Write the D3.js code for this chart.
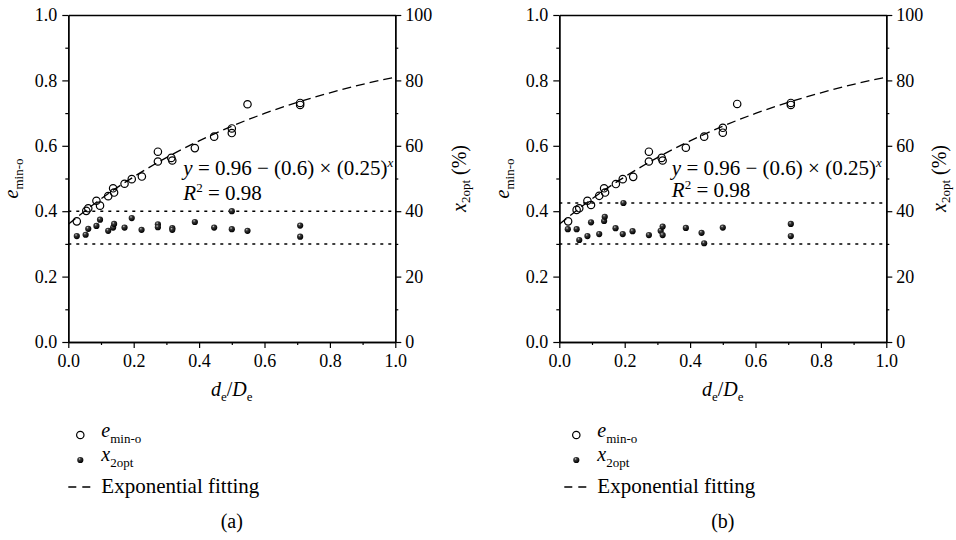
<!DOCTYPE html>
<html><head><meta charset="utf-8">
<script src="https://cdn.jsdelivr.net/npm/d3@7"></script>
<style>
body{margin:0;background:#fff;}
svg text{font-family:"Liberation Serif","Tinos","Times New Roman","DejaVu Serif","Noto Serif",serif !important;fill:#000;}
</style></head><body>
<svg id="c" width="956" height="540"></svg>
<script>
// ---------- data ----------
const xTicks = [0, 0.2, 0.4, 0.6, 0.8, 1.0];
const xMinor = [0.1, 0.3, 0.5, 0.7, 0.9];
const yTicks = [0, 0.2, 0.4, 0.6, 0.8, 1.0];
const yMinor = [0.1, 0.3, 0.5, 0.7, 0.9];
const y2Ticks = [0, 20, 40, 60, 80, 100];
const y2Minor = [10, 30, 50, 70, 90];

// panel (a) e_min-o (open circles)
const eA_x = [0.026,0.055,0.061,0.086,0.097,0.122,0.137,0.140,0.172,0.194,0.225,0.274,0.274,0.315,0.318,0.387,0.446,0.500,0.500,0.548,0.709,0.709];
const eA_y = [0.369,0.401,0.409,0.432,0.417,0.446,0.470,0.457,0.484,0.498,0.506,0.582,0.552,0.563,0.555,0.593,0.628,0.653,0.639,0.727,0.731,0.725];
// panel (a) x_2opt (%) (filled dots)
const xA_x = [0.026,0.053,0.061,0.086,0.097,0.122,0.137,0.140,0.172,0.194,0.224,0.274,0.274,0.318,0.318,0.387,0.446,0.500,0.500,0.548,0.709,0.709];
const xA_p = [32.4,32.8,34.6,35.5,37.4,34.0,35.0,36.1,35.0,37.9,34.3,36.0,35.1,34.8,34.3,36.7,35.0,40.0,34.5,34.0,35.6,32.2];

// panel (b) e_min-o
const eB_x = [0.027,0.053,0.061,0.086,0.097,0.122,0.137,0.140,0.173,0.194,0.226,0.274,0.274,0.313,0.316,0.387,0.443,0.500,0.500,0.544,0.708,0.708];
const eB_y = [0.369,0.404,0.409,0.432,0.419,0.447,0.470,0.457,0.483,0.498,0.505,0.582,0.552,0.563,0.555,0.594,0.628,0.655,0.640,0.728,0.731,0.725];
// panel (b) x_2opt (%)
const xB_x = [0.026,0.053,0.061,0.086,0.097,0.122,0.137,0.139,0.172,0.194,0.196,0.224,0.274,0.310,0.316,0.316,0.387,0.435,0.443,0.500,0.708,0.708];
const xB_p = [34.5,34.5,31.2,32.4,36.6,33.0,37.0,38.3,34.8,33.0,42.5,33.9,32.7,34.0,35.3,32.7,34.9,33.4,30.2,35.0,36.1,32.4];

// exponential fitting curve y = 0.96 - (0.6)(0.25)^x
const fit_x = [0, 0.1, 0.2, 0.3, 0.4, 0.5, 0.6, 0.7, 0.8, 0.9, 1.0];
const fit_y = [0.360, 0.438, 0.505, 0.564, 0.615, 0.660, 0.699, 0.733, 0.762, 0.788, 0.810];

// dotted bounds for x_2opt (%)
const boundsA = [40, 30];
const boundsB = [42.5, 30];
const panelNames = ["(a)", "(b)"];

// ---------- drawing ----------
const FONT = "'Liberation Serif','Tinos','Times New Roman','DejaVu Serif','Noto Serif',serif";
const svg = d3.select("#c");
const W = 327, H = 327, TOP = 15;

const defs = svg.append("defs");
const grad = defs.append("radialGradient").attr("id","ball").attr("cx","38%").attr("cy","32%").attr("r","65%");
grad.append("stop").attr("offset","0%").attr("stop-color","#d0d0d0");
grad.append("stop").attr("offset","30%").attr("stop-color","#3a3a3a");
grad.append("stop").attr("offset","100%").attr("stop-color","#000");

function drawPanel(cfg) {
  const g = svg.append("g").attr("transform", `translate(${cfg.ox},${TOP})`);
  const x = d3.scaleLinear().domain([0,1]).range([0,W]);
  const y = d3.scaleLinear().domain([0,1]).range([H,0]);
  const y2 = d3.scaleLinear().domain([0,100]).range([H,0]);

  const fmt = d3.format(".1f");
  function styleAxis(sel) {
    sel.attr("font-family", FONT);
    sel.select(".domain").attr("stroke","#000").attr("stroke-width",1.4);
    sel.selectAll(".tick line").attr("stroke","#000").attr("stroke-width",1.2);
    sel.selectAll("text").style("font-size","18px").attr("fill","#000");
  }
  // minor ticks
  g.append("g").attr("transform",`translate(0,${H})`)
    .call(d3.axisBottom(x).tickValues(xMinor).tickSize(3).tickFormat("").tickSizeOuter(0)).call(styleAxis);
  g.append("g").call(d3.axisLeft(y).tickValues(yMinor).tickSize(3).tickFormat("").tickSizeOuter(0)).call(styleAxis);
  g.append("g").attr("transform",`translate(${W},0)`)
    .call(d3.axisRight(y2).tickValues(y2Minor).tickSize(3).tickFormat("").tickSizeOuter(0)).call(styleAxis);
  // major axes
  g.append("g").attr("transform",`translate(0,${H})`)
    .call(d3.axisBottom(x).tickValues(xTicks).tickFormat(fmt).tickSize(6).tickPadding(6).tickSizeOuter(0)).call(styleAxis);
  g.append("g").call(d3.axisLeft(y).tickValues(yTicks).tickFormat(fmt).tickSize(6).tickPadding(5).tickSizeOuter(0)).call(styleAxis);
  g.append("g").attr("transform",`translate(${W},0)`)
    .call(d3.axisRight(y2).tickValues(y2Ticks).tickFormat(d3.format("d")).tickSize(6).tickPadding(4).tickSizeOuter(0)).call(styleAxis);
  g.append("g").call(d3.axisTop(x).tickValues([]).tickSizeOuter(0)).call(styleAxis);

  // dotted bounds
  g.selectAll("line.bound").data(cfg.bounds).join("line").attr("class","bound")
    .attr("x1", x(0)).attr("x2", x(1)).attr("y1", d => y2(d)).attr("y2", d => y2(d))
    .attr("stroke","#000").attr("stroke-width",1.5).attr("stroke-dasharray","3,5");

  // fit curve
  const line = d3.line().x(d => x(d[0])).y(d => y(d[1])).curve(d3.curveNatural);
  g.append("path").datum(d3.zip(fit_x, fit_y)).attr("d", line)
    .attr("fill","none").attr("stroke","#000").attr("stroke-width",1.3).attr("stroke-dasharray","9,5");

  // open circles
  g.selectAll("circle.e").data(d3.zip(cfg.ex, cfg.ey)).join("circle").attr("class","e")
    .attr("cx", d => x(d[0])).attr("cy", d => y(d[1])).attr("r",3.7)
    .attr("fill","none").attr("stroke","#000").attr("stroke-width",1.2);
  // filled dots
  g.selectAll("circle.p").data(d3.zip(cfg.px, cfg.pp)).join("circle").attr("class","p")
    .attr("cx", d => x(d[0])).attr("cy", d => y2(d[1])).attr("r",3.1)
    .attr("fill","url(#ball)");

  const T = (sel) => sel.attr("font-family", FONT);

  // equation
  const eq = g.append("text").call(T).attr("x", cfg.eqx).attr("y", 160).style("font-size","21px");
  eq.append("tspan").style("font-style","italic").text("y");
  eq.append("tspan").text(" = 0.96 \u2212 (0.6) \u00d7 (0.25)");
  eq.append("tspan").style("font-style","italic").style("font-size","13px").attr("dy",-8).text("x");
  const r2 = g.append("text").call(T).attr("x", cfg.eqx).attr("y", cfg.r2y).style("font-size","21px");
  r2.append("tspan").style("font-style","italic").text("R");
  r2.append("tspan").style("font-size","13px").attr("dy",-8).text("2");
  r2.append("tspan").attr("dy",8).text(" = 0.98");

  // x title
  const xt = g.append("text").call(T).attr("x", W/2).attr("y", 381).attr("text-anchor","middle").style("font-size","20px");
  xt.append("tspan").style("font-style","italic").text("d");
  xt.append("tspan").style("font-size","13px").attr("dy",5).text("e");
  xt.append("tspan").attr("dy",-5).text("/");
  xt.append("tspan").style("font-style","italic").text("D");
  xt.append("tspan").style("font-size","13px").attr("dy",5).text("e");

  // left title
  const lt = g.append("text").call(T).attr("transform",`translate(${-50},${H/2}) rotate(-90)`).attr("text-anchor","middle").style("font-size","20px");
  lt.append("tspan").style("font-style","italic").text("e");
  lt.append("tspan").style("font-size","13px").attr("dy",5).text("min-o");

  // right title
  const rt = g.append("text").call(T).attr("transform",`translate(${W + cfg.rtx},${H/2}) rotate(-90)`).attr("text-anchor","middle").style("font-size","20px");
  rt.append("tspan").style("font-style","italic").text("x");
  rt.append("tspan").style("font-size","13px").attr("dy",4).text("2opt");
  rt.append("tspan").attr("dy",-4).text(" (%)");

  // legend
  const lg = g.append("g").attr("transform",`translate(${cfg.lgx},0)`);
  lg.append("circle").attr("cx",0).attr("cy",420).attr("r",3.7).attr("fill","none").attr("stroke","#000").attr("stroke-width",1.2);
  const l1 = lg.append("text").call(T).attr("x",21).attr("y",422).style("font-size","20px");
  l1.append("tspan").style("font-style","italic").text("e");
  l1.append("tspan").style("font-size","13px").attr("dy",6).text("min-o");
  lg.append("circle").attr("cx",0).attr("cy",445).attr("r",3.1).attr("fill","url(#ball)");
  const l2 = lg.append("text").call(T).attr("x",21).attr("y",446).style("font-size","20px");
  l2.append("tspan").style("font-style","italic").text("x");
  l2.append("tspan").style("font-size","13px").attr("dy",6).text("2opt");
  lg.append("line").attr("x1",-12).attr("x2",13).attr("y1",472).attr("y2",472)
    .attr("stroke","#000").attr("stroke-width",1.3).attr("stroke-dasharray","8,6");
  lg.append("text").call(T).attr("x",21).attr("y",478).style("font-size","21px").text("Exponential fitting");

  g.append("text").call(T).attr("x", W/2).attr("y", 513).attr("text-anchor","middle").style("font-size","20px").text(cfg.name);
}

drawPanel({ox:68.3, ex:eA_x, ey:eA_y, px:xA_x, pp:xA_p, bounds:boundsA, name:panelNames[0], eqx:115, r2y:185, rtx:71, lgx:12});
drawPanel({ox:559.3, ex:eB_x, ey:eB_y, px:xB_x, pp:xB_p, bounds:boundsB, name:panelNames[1], eqx:112.5, r2y:182, rtx:60, lgx:17});
</script>
</body></html>
